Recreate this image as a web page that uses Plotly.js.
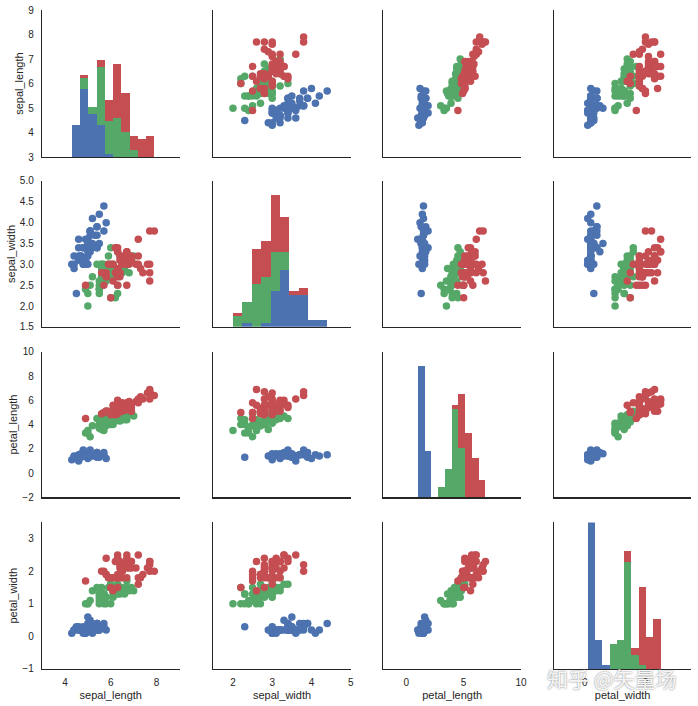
<!DOCTYPE html>
<html>
<head>
<meta charset="utf-8">
<script src="https://cdn.plot.ly/plotly-3.0.1.min.js"></script>
<style>html,body{margin:0;padding:0;background:#fff;}#chart{width:698px;height:706px;}</style>
</head>
<body>
<div id="chart"></div>
<script>
// ---- Data: Iris (values as plotted) ----
const varNames = ['sepal_length', 'sepal_width', 'petal_length', 'petal_width'];
const speciesNames = ['setosa', 'versicolor', 'virginica'];

const setosa_sepal_length = [5.1,4.9,4.7,4.6,5.0,5.4,4.6,5.0,4.4,4.9,5.4,4.8,4.8,4.3,5.8,5.7,5.4,5.1,5.7,5.1,5.4,5.1,4.6,5.1,4.8,5.0,5.0,5.2,5.2,4.7,4.8,5.4,5.2,5.5,4.9,5.0,5.5,4.9,4.4,5.1,5.0,4.5,4.4,5.0,5.1,4.8,5.1,4.6,5.3,5.0];
const setosa_sepal_width  = [3.5,3.0,3.2,3.1,3.6,3.9,3.4,3.4,2.9,3.1,3.7,3.4,3.0,3.0,4.0,4.4,3.9,3.5,3.8,3.8,3.4,3.7,3.6,3.3,3.4,3.0,3.4,3.5,3.4,3.2,3.1,3.4,4.1,4.2,3.1,3.2,3.5,3.6,3.0,3.4,3.5,2.3,3.2,3.5,3.8,3.0,3.8,3.2,3.7,3.3];
const setosa_petal_length = [1.4,1.4,1.3,1.5,1.4,1.7,1.4,1.5,1.4,1.5,1.5,1.6,1.4,1.1,1.2,1.5,1.3,1.4,1.7,1.5,1.7,1.5,1.0,1.7,1.9,1.6,1.6,1.5,1.4,1.6,1.6,1.5,1.5,1.4,1.5,1.2,1.3,1.4,1.3,1.5,1.3,1.3,1.3,1.6,1.9,1.4,1.6,1.4,1.5,1.4];
const setosa_petal_width  = [0.2,0.2,0.2,0.2,0.2,0.4,0.3,0.2,0.2,0.1,0.2,0.2,0.1,0.1,0.2,0.4,0.4,0.3,0.3,0.3,0.2,0.4,0.2,0.5,0.2,0.2,0.4,0.2,0.2,0.2,0.2,0.4,0.1,0.2,0.2,0.2,0.2,0.1,0.2,0.2,0.3,0.3,0.2,0.6,0.4,0.3,0.2,0.2,0.2,0.2];

const versicolor_sepal_length = [7.0,6.4,6.9,5.5,6.5,5.7,6.3,4.9,6.6,5.2,5.0,5.9,6.0,6.1,5.6,6.7,5.6,5.8,6.2,5.6,5.9,6.1,6.3,6.1,6.4,6.6,6.8,6.7,6.0,5.7,5.5,5.5,5.8,6.0,5.4,6.0,6.7,6.3,5.6,5.5,5.5,6.1,5.8,5.0,5.6,5.7,5.7,6.2,5.1,5.7];
const versicolor_sepal_width  = [3.2,3.2,3.1,2.3,2.8,2.8,3.3,2.4,2.9,2.7,2.0,3.0,2.2,2.9,2.9,3.1,3.0,2.7,2.2,2.5,3.2,2.8,2.5,2.8,2.9,3.0,2.8,3.0,2.9,2.6,2.4,2.4,2.7,2.7,3.0,3.4,3.1,2.3,3.0,2.5,2.6,3.0,2.6,2.3,2.7,3.0,2.9,2.9,2.5,2.8];
const versicolor_petal_length = [4.7,4.5,4.9,4.0,4.6,4.5,4.7,3.3,4.6,3.9,3.5,4.2,4.0,4.7,3.6,4.4,4.5,4.1,4.5,3.9,4.8,4.0,4.9,4.7,4.3,4.4,4.8,5.0,4.5,3.5,3.8,3.7,3.9,5.1,4.5,4.5,4.7,4.4,4.1,4.0,4.4,4.6,4.0,3.3,4.2,4.2,4.2,4.3,3.0,4.1];
const versicolor_petal_width  = [1.4,1.5,1.5,1.3,1.5,1.3,1.6,1.0,1.3,1.4,1.0,1.5,1.0,1.4,1.3,1.4,1.5,1.0,1.5,1.1,1.8,1.3,1.5,1.2,1.3,1.4,1.4,1.7,1.5,1.0,1.1,1.0,1.2,1.6,1.5,1.6,1.5,1.3,1.3,1.3,1.2,1.4,1.2,1.0,1.3,1.2,1.3,1.3,1.1,1.3];

const virginica_sepal_length = [6.3,5.8,7.1,6.3,6.5,7.6,4.9,7.3,6.7,7.2,6.5,6.4,6.8,5.7,5.8,6.4,6.5,7.7,7.7,6.0,6.9,5.6,7.7,6.3,6.7,7.2,6.2,6.1,6.4,7.2,7.4,7.9,6.4,6.3,6.1,7.7,6.3,6.4,6.0,6.9,6.7,6.9,5.8,6.8,6.7,6.7,6.3,6.5,6.2,5.9];
const virginica_sepal_width  = [3.3,2.7,3.0,2.9,3.0,3.0,2.5,2.9,2.5,3.6,3.2,2.7,3.0,2.5,2.8,3.2,3.0,3.8,2.6,2.2,3.2,2.8,2.8,2.7,3.3,3.2,2.8,3.0,2.8,3.0,2.8,3.8,2.8,2.8,2.6,3.0,3.4,3.1,3.0,3.1,3.1,3.1,2.7,3.2,3.3,3.0,2.5,3.0,3.4,3.0];
const virginica_petal_length = [6.0,5.1,5.9,5.6,5.8,6.6,4.5,6.3,5.8,6.1,5.1,5.3,5.5,5.0,5.1,5.3,5.5,6.7,6.9,5.0,5.7,4.9,6.7,4.9,5.7,6.0,4.8,4.9,5.6,5.8,6.1,6.4,5.6,5.1,5.6,6.1,5.6,5.5,4.8,5.4,5.6,5.1,5.1,5.9,5.7,5.2,5.0,5.2,5.4,5.1];
const virginica_petal_width  = [2.5,1.9,2.1,1.8,2.2,2.1,1.7,1.8,1.8,2.5,2.0,1.9,2.1,2.0,2.4,2.3,1.8,2.2,2.3,1.5,2.3,2.0,2.0,1.8,2.1,1.8,1.8,1.8,2.1,1.6,1.9,2.0,2.2,1.5,1.4,2.3,2.4,1.8,1.8,2.1,2.4,2.3,1.9,2.3,2.5,2.3,1.9,2.0,2.3,1.8];

// axis ranges / ticks per variable
const axisRanges = [[3, 9], [1.5, 5], [-2, 10], [-1, 3.5]];
const yTickSteps = [1, 0.5, 2, 1];
const xTickSteps = [2, 1, 5, 2];
const histBins = 10;
const histMaxCount = 41;

const colors = ['#4C72B0', '#55A868', '#C44E52'];

const dataBySpecies = [
  [setosa_sepal_length, setosa_sepal_width, setosa_petal_length, setosa_petal_width],
  [versicolor_sepal_length, versicolor_sepal_width, versicolor_petal_length, versicolor_petal_width],
  [virginica_sepal_length, virginica_sepal_width, virginica_petal_length, virginica_petal_width]
];

// numpy-style histogram counting over shared edges
function histogram(vals, mn, mx, n) {
  const edges = [];
  for (let i = 0; i <= n; i++) edges.push(mn + i * (mx - mn) / n);
  const counts = new Array(n).fill(0);
  for (const v of vals) {
    let idx = Math.floor((v - mn) / (mx - mn) * n);
    if (idx >= n) idx = n - 1;
    if (idx < 0) idx = 0;
    if (v < edges[idx] && idx > 0) idx -= 1;
    else if (idx < n - 1 && v >= edges[idx + 1]) idx += 1;
    counts[idx] += 1;
  }
  const centers = [], widths = [];
  for (let i = 0; i < n; i++) { centers.push((edges[i] + edges[i + 1]) / 2); widths.push(edges[i + 1] - edges[i]); }
  return {counts, centers, widths};
}

// ---- Layout geometry ----
const colDomains = [[0, 0.2119], [0.264, 0.4757], [0.5259, 0.7381], [0.7894, 1]];
const rowDomains = [[0.7766, 1], [0.5192, 0.7406], [0.2606, 0.4813], [0, 0.2224]];

const axisFont = {family: 'Liberation Sans, Arial, sans-serif', size: 10, color: '#262626'};
const titleFont = {family: 'Liberation Sans, Arial, sans-serif', size: 11, color: '#262626'};

const traces = [];
const layout = {
  width: 698, height: 706,
  margin: {l: 42, r: 7, t: 10, b: 37},
  paper_bgcolor: '#fff', plot_bgcolor: '#fff',
  showlegend: false,
  barmode: 'stack', bargap: 0,
  annotations: []
};

function ax(k) { return k === 1 ? '' : String(k); }

for (let r = 0; r < 4; r++) {
  for (let c = 0; c < 4; c++) {
    const k = r * 4 + c + 1;
    const s = ax(k);
    layout['xaxis' + s] = {
      domain: colDomains[c], anchor: 'y' + s,
      range: axisRanges[c], autorange: false,
      showline: true, linecolor: '#262626', linewidth: 1.25,
      showgrid: false, zeroline: false,
      ticks: 'outside', ticklen: 4, tickcolor: 'rgba(0,0,0,0)',
      tick0: 0, dtick: xTickSteps[c],
      showticklabels: r === 3, tickfont: axisFont,
      title: r === 3 ? {text: varNames[c], font: titleFont, standoff: 4} : {text: ''}
    };
    layout['yaxis' + s] = {
      domain: rowDomains[r], anchor: 'x' + s,
      range: axisRanges[r], autorange: false,
      showline: true, linecolor: '#262626', linewidth: 1.25,
      showgrid: false, zeroline: false,
      ticks: 'outside', ticklen: 5, tickcolor: 'rgba(0,0,0,0)',
      tick0: 0, dtick: yTickSteps[r],
      tickformat: r === 1 ? '.1f' : '',
      showticklabels: c === 0, tickfont: axisFont,
      title: c === 0 ? {text: varNames[r], font: titleFont, standoff: 2} : {text: ''}
    };
    if (r === c) {
      // register the base subplot so its axes are drawn in place
      traces.push({type: 'scatter', mode: 'markers', x: [], y: [], xaxis: 'x' + s, yaxis: 'y' + s, hoverinfo: 'skip'});
      // diagonal: stacked histogram on an overlaid count axis
      const hk = 16 + r + 1;
      layout['yaxis' + hk] = {
        domain: rowDomains[r], anchor: 'x' + s, overlaying: 'y' + s,
        range: [0, histMaxCount], autorange: false, visible: false
      };
      const all = dataBySpecies[0][c].concat(dataBySpecies[1][c], dataBySpecies[2][c]);
      const mn = Math.min(...all), mx = Math.max(...all);
      for (let sp = 0; sp < 3; sp++) {
        const h = histogram(dataBySpecies[sp][c], mn, mx, histBins);
        traces.push({
          type: 'bar', x: h.centers, y: h.counts, width: h.widths,
          xaxis: 'x' + s, yaxis: 'y' + hk,
          marker: {color: colors[sp], line: {width: 0}},
          name: speciesNames[sp], hoverinfo: 'skip'
        });
      }
    } else {
      for (let sp = 0; sp < 3; sp++) {
        traces.push({
          type: 'scatter', mode: 'markers',
          x: dataBySpecies[sp][c], y: dataBySpecies[sp][r],
          xaxis: 'x' + s, yaxis: 'y' + s,
          marker: {color: colors[sp], size: 7.5, line: {width: 0}},
          name: speciesNames[sp], hoverinfo: 'skip'
        });
      }
    }
  }
}

// watermark
layout.annotations.push({
  xref: 'paper', yref: 'paper', x: 0.878, y: -0.013,
  xanchor: 'center', yanchor: 'middle', showarrow: false,
  text: '知乎 @矢量场',
  font: {family: 'Noto Sans CJK SC, sans-serif', size: 21, color: 'rgba(255,255,255,0.92)',
         shadow: '0px 0px 2px #666'}
});

Plotly.newPlot('chart', traces, layout, {displayModeBar: false, staticPlot: true});
</script>
</body>
</html>
